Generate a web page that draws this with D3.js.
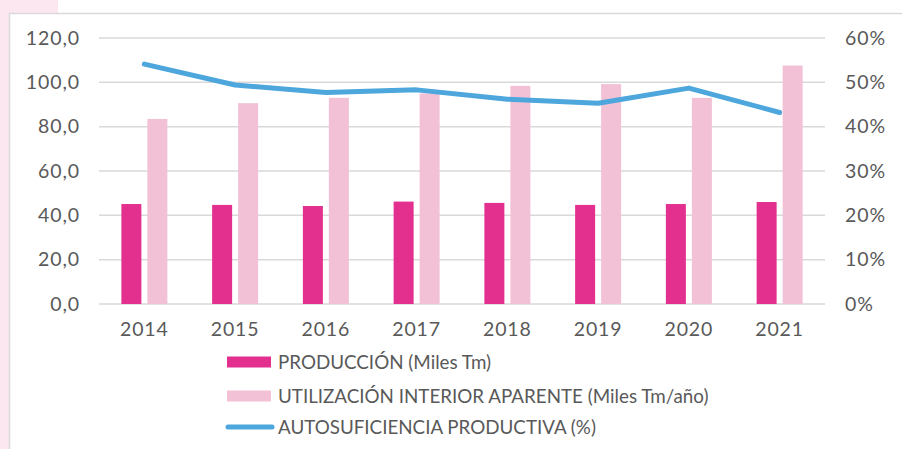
<!DOCTYPE html>
<html><head><meta charset="utf-8">
<script src="https://cdn.jsdelivr.net/npm/d3@7"></script>
<style>
html,body{margin:0;padding:0;background:#fff;}
svg{display:block;}
text{font-family:"Lato","Open Sans",sans-serif;fill:#595959;}
</style></head>
<body>
<svg id="chart" width="902" height="449"></svg>
<script>
const years = ["2014","2015","2016","2017","2018","2019","2020","2021"];
const produccion = [45.1, 44.7, 44.2, 46.2, 45.6, 44.7, 45.1, 46.0];
const utilizacion = [83.5, 90.6, 93.0, 95.0, 98.4, 99.2, 93.0, 107.6];
const autosuficiencia = [0.541, 0.494, 0.477, 0.483, 0.462, 0.453, 0.487, 0.432];
const leftTicks = [0, 20, 40, 60, 80, 100, 120];
const rightTicks = [0, 0.1, 0.2, 0.3, 0.4, 0.5, 0.6];
const legendLabels = ["PRODUCCIÓN (Miles Tm)", "UTILIZACIÓN INTERIOR APARENTE (Miles Tm/año)", "AUTOSUFICIENCIA PRODUCTIVA (%)"];
const colors = {prod:"#e3308f", util:"#f2c1d6", line:"#4da6dc"};

const svg = d3.select("#chart");
svg.append("rect").attr("x",0).attr("y",0).attr("width",58).attr("height",14).attr("fill","#fce6ef");
svg.append("rect").attr("x",0).attr("y",0).attr("width",9).attr("height",449).attr("fill","#fce6ef");
svg.append("rect").attr("x",9.5).attr("y",13.5).attr("width",900).attr("height",440)
  .attr("fill","#fff").attr("stroke","#d9d9d9").attr("stroke-width",1.5);

const pL=99, pR=825, pT=38, pB=304;
const x = d3.scaleBand().domain(years).range([pL,pR]);
const y = d3.scaleLinear().domain([0,120]).range([pB,pT]);
const y2 = d3.scaleLinear().domain([0,0.6]).range([pB,pT]);

svg.append("g").selectAll("line").data(leftTicks).join("line")
  .attr("x1",pL).attr("x2",pR).attr("y1",d=>y(d)).attr("y2",d=>y(d))
  .attr("stroke","#d9d9d9").attr("stroke-width",1.5);

const styleTicks = g => g.selectAll("text").style("font-size","19.5px").style("fill","#595959")
  .style("font-family","Lato").style("letter-spacing","0.9px");

const fmt = d => d3.format(".1f")(d).replace(".",",");
const gl = svg.append("g").attr("transform",`translate(${pL},0)`)
  .call(d3.axisLeft(y).tickValues(leftTicks).tickFormat(fmt).tickSize(0).tickPadding(19));
gl.select(".domain").remove();
styleTicks(gl);

const gr = svg.append("g").attr("transform",`translate(${pR},0)`)
  .call(d3.axisRight(y2).tickValues(rightTicks).tickFormat(d3.format(".0%")).tickSize(0).tickPadding(20));
gr.select(".domain").remove();
styleTicks(gr);

const gx = svg.append("g").attr("transform",`translate(0,${pB})`)
  .call(d3.axisBottom(x).tickSize(0).tickPadding(18));
gx.select(".domain").remove();
styleTicks(gx);

const bw = 20, gap = 3;
svg.append("g").selectAll("rect").data(years).join("rect")
  .attr("x",(d)=>x(d)+x.bandwidth()/2-gap-bw)
  .attr("y",(d,i)=>y(produccion[i])).attr("width",bw)
  .attr("height",(d,i)=>y(0)-y(produccion[i])).attr("fill",colors.prod);
svg.append("g").selectAll("rect").data(years).join("rect")
  .attr("x",(d)=>x(d)+x.bandwidth()/2+gap)
  .attr("y",(d,i)=>y(utilizacion[i])).attr("width",bw)
  .attr("height",(d,i)=>y(0)-y(utilizacion[i])).attr("fill",colors.util);

const line = d3.line().x((d,i)=>x(years[i])+x.bandwidth()/2).y(d=>y2(d));
svg.append("path").datum(autosuficiencia).attr("d",line).attr("fill","none")
  .attr("stroke",colors.line).attr("stroke-width",5).attr("stroke-linecap","round").attr("stroke-linejoin","round");

const lg = svg.append("g");
const rows = [362, 396, 427];
lg.append("rect").attr("x",227).attr("y",rows[0]-5.5).attr("width",44).attr("height",11).attr("fill",colors.prod);
lg.append("rect").attr("x",227).attr("y",rows[1]-5.5).attr("width",44).attr("height",11).attr("fill",colors.util);
lg.append("line").attr("x1",228).attr("x2",272).attr("y1",rows[2]).attr("y2",rows[2])
  .attr("stroke",colors.line).attr("stroke-width",5).attr("stroke-linecap","round");
lg.selectAll("text").data(legendLabels).join("text")
  .attr("x",278).attr("y",(d,i)=>rows[i]).attr("dy","0.35em")
  .style("font-size","18.8px").text(d=>d);
</script>
</body></html>
